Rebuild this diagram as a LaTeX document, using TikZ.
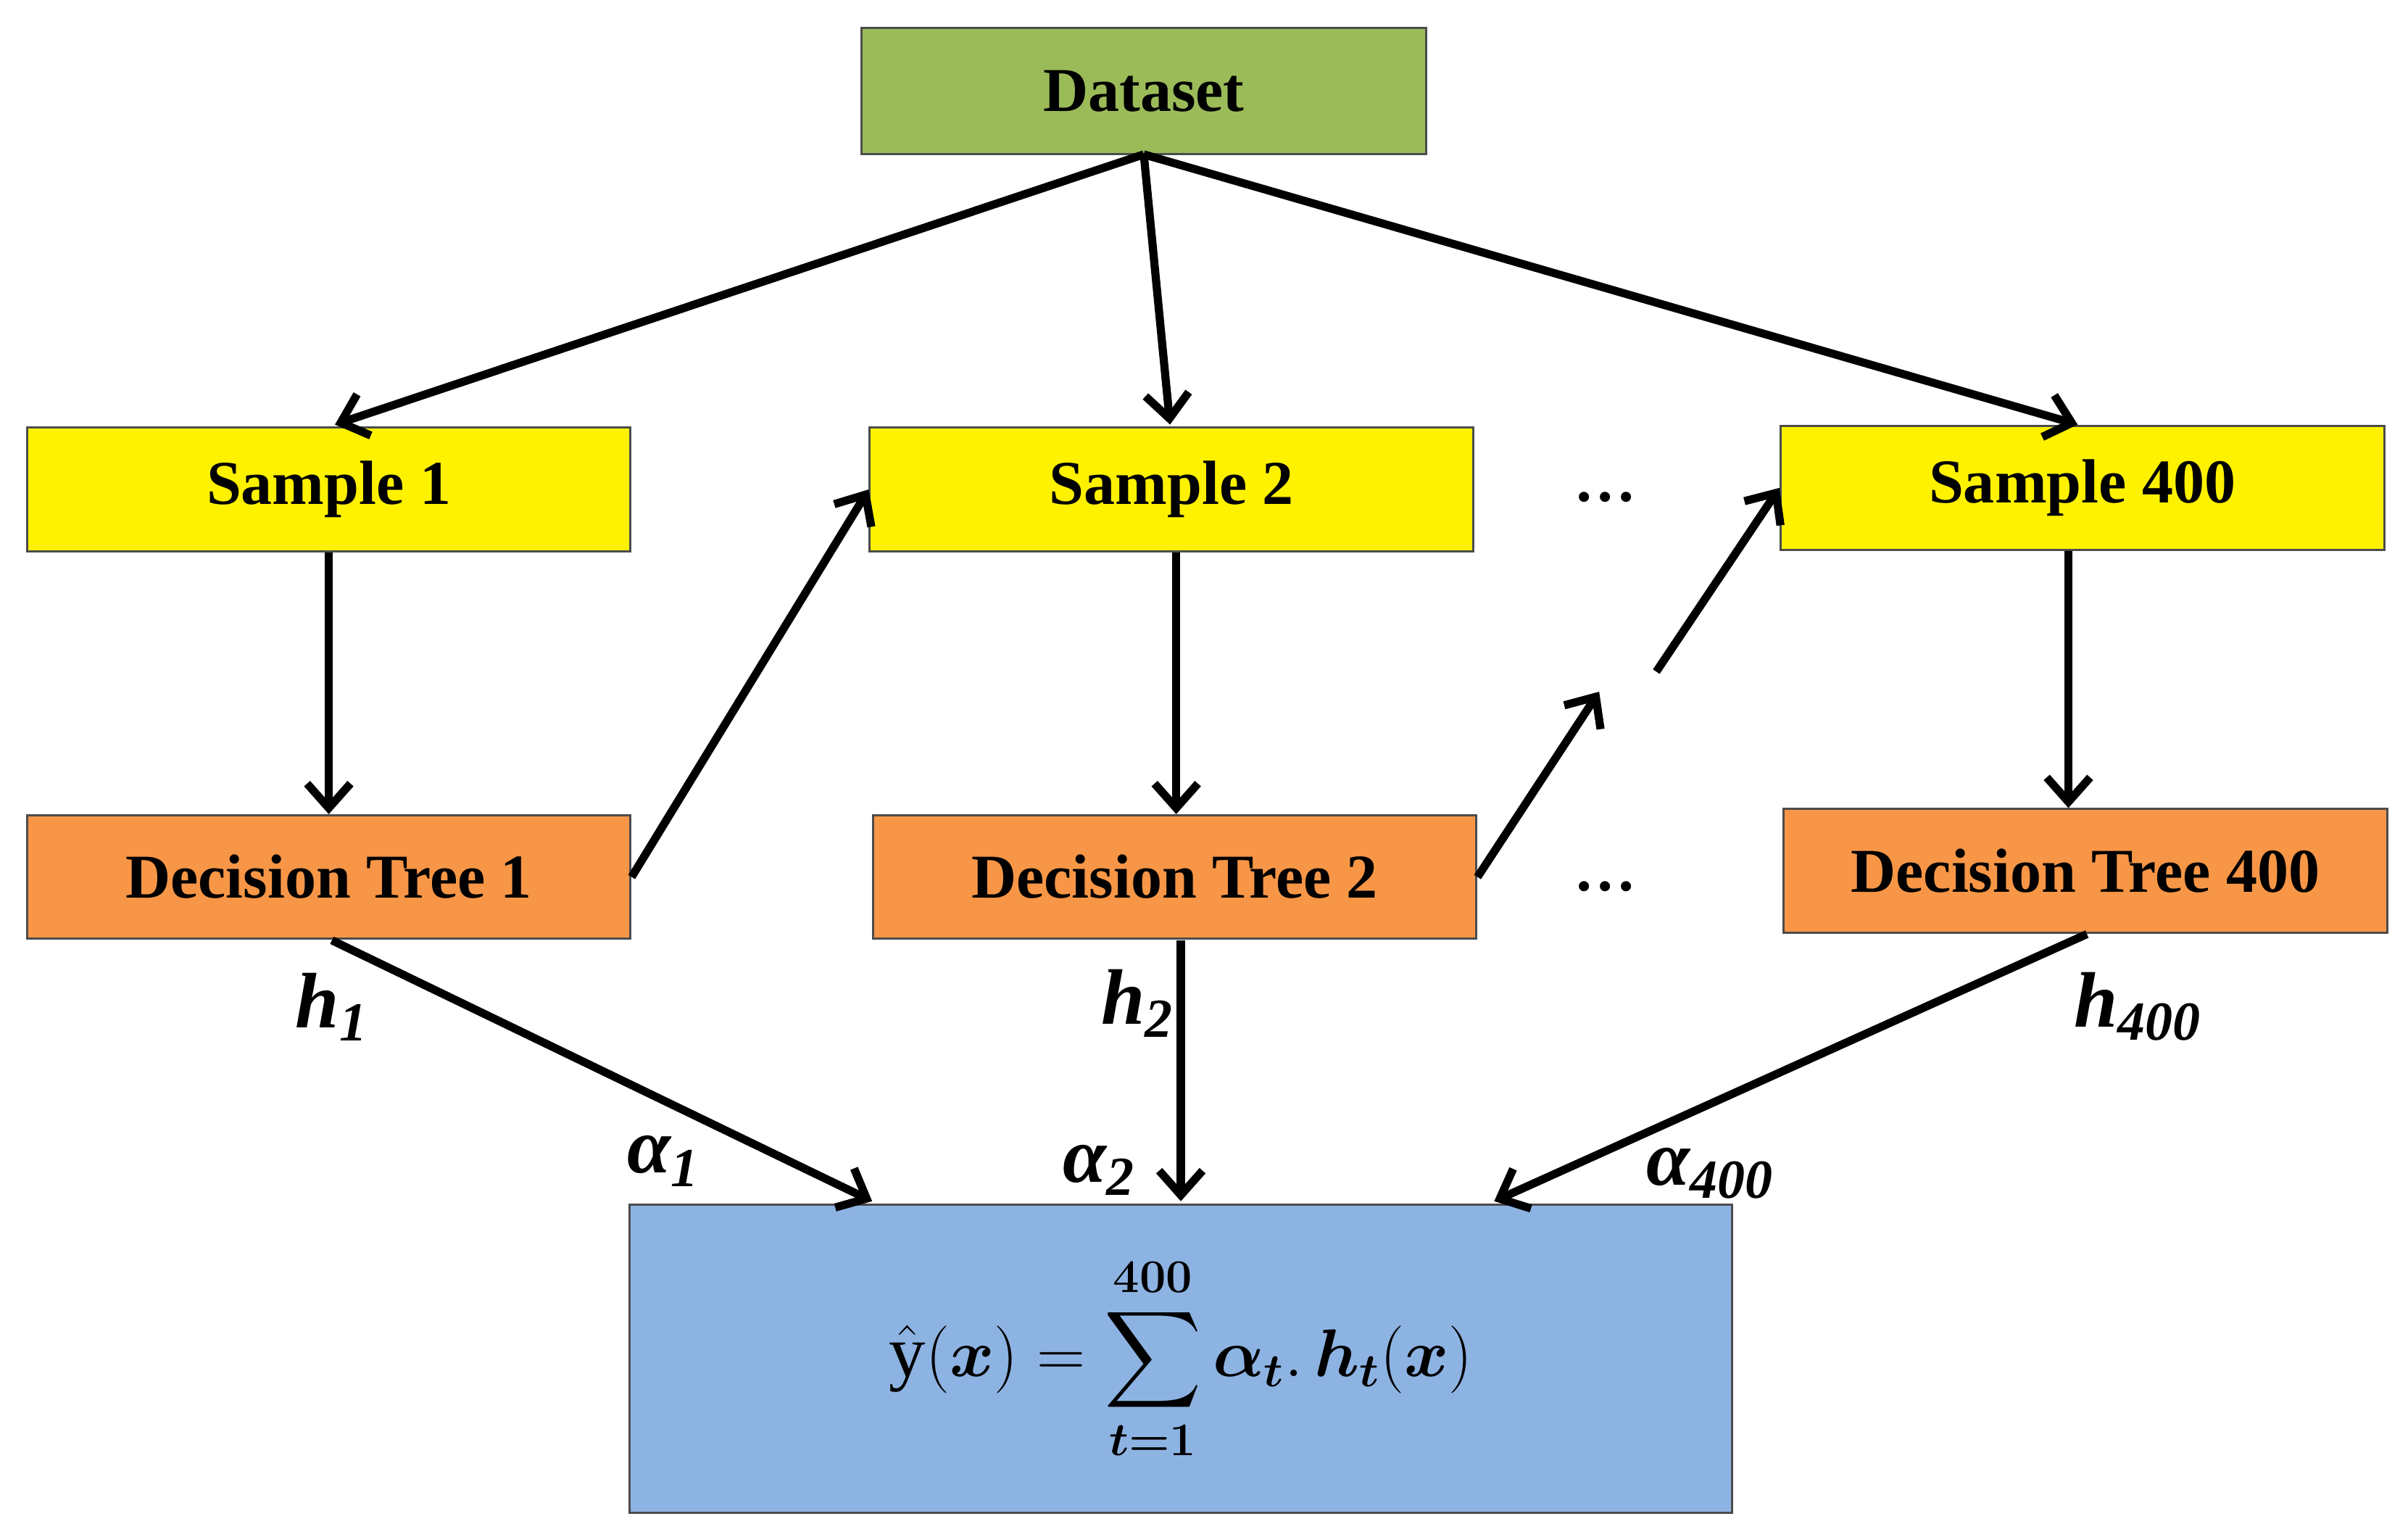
\documentclass[tikz,border=0pt]{standalone}
\usepackage{amsmath,bm}
\usepackage{fontspec}
\setmainfont{Liberation Serif}
\usetikzlibrary{arrows.meta}
\begin{document}
\begin{tikzpicture}[x=0.02cm,y=-0.02cm,
 box/.style={draw=black!70,line width=0.8pt,inner sep=0pt,font=\bfseries\fontsize{23}{27}\selectfont},
 arr/.style={line width=3pt,-{Straight Barb[length=9pt,width=16pt,line width=3pt]}},
 lab/.style={font=\bfseries\itshape\fontsize{29}{34}\selectfont}]
\useasboundingbox (0,0) rectangle (1560,997);
\node[box,fill={rgb,255:red,155;green,187;blue,89},minimum width=366*0.02cm,minimum height=82*0.02cm] (ds) at (741,59) {Dataset};
\tikzset{yb/.style={box,fill=yellow,minimum width=391*0.02cm,minimum height=80*0.02cm},
 ob/.style={box,fill={rgb,255:red,247;green,150;blue,70},minimum width=391*0.02cm,minimum height=80*0.02cm}}
\node[yb] (s1) at (213,317) {Sample 1};
\node[yb] (s2) at (759,317) {Sample 2};
\node[yb] (s3) at (1349,316) {Sample 400};
\node[ob] (d1) at (213,568) {Decision Tree 1};
\node[ob] (d2) at (761,568) {Decision Tree 2};
\node[ob] (d3) at (1351,564) {Decision Tree 400};
\node[box,fill={rgb,255:red,141;green,179;blue,226},minimum width=714*0.02cm,minimum height=200*0.02cm] (f) at (765,880)
 {\fontsize{27}{32}\selectfont$\displaystyle\hat{\mathrm{y}}(\bm{x})=\sum_{\bm{t=1}}^{\bm{400}}\bm{\alpha_t}.\,\bm{h_t}(\bm{x})$};
\coordinate (dsb) at (741,100);
\draw[arr] (dsb) -- (217,275);
\draw[arr] (dsb) -- (758,275);
\draw[arr] (dsb) -- (1346,275);
\draw[arr] (s1.south) -- (d1.north);
\draw[arr] (s2.south -| 762,0) -- (d2.north -| 762,0);
\draw[arr] (s3.south -| 1340,0) -- (d3.north -| 1340,0);
\draw[arr] (d1.east) -- (s2.west);
\coordinate (g1) at (1036,448); \coordinate (g2) at (1073,435);
\draw[arr] (d2.east) -- (g1);
\draw[arr] (g2) -- (s3.west);
\draw[arr] (215,609) -- (565,778);
\draw[arr] (765,609) -- (765,778);
\draw[arr] (1352,605) -- (968,778);
\node[font=\bfseries\fontsize{23}{27}\selectfont] (e1) at (1040,322) {…};
\node[font=\bfseries\fontsize{23}{27}\selectfont] (e2) at (1040,574) {…};
\node[lab] (h1) at (215,652) {h\textsubscript{1}};
\node[lab] (h2) at (737,650) {h\textsubscript{2}};
\node[lab] (h3) at (1385,652) {h\textsubscript{400}};
\node[lab] (a1) at (430,752) {α\textsubscript{1}};
\node[lab] (a2) at (712,758) {α\textsubscript{2}};
\node[lab] (a3) at (1108,760) {α\textsubscript{400}};
\end{tikzpicture}
\end{document}
